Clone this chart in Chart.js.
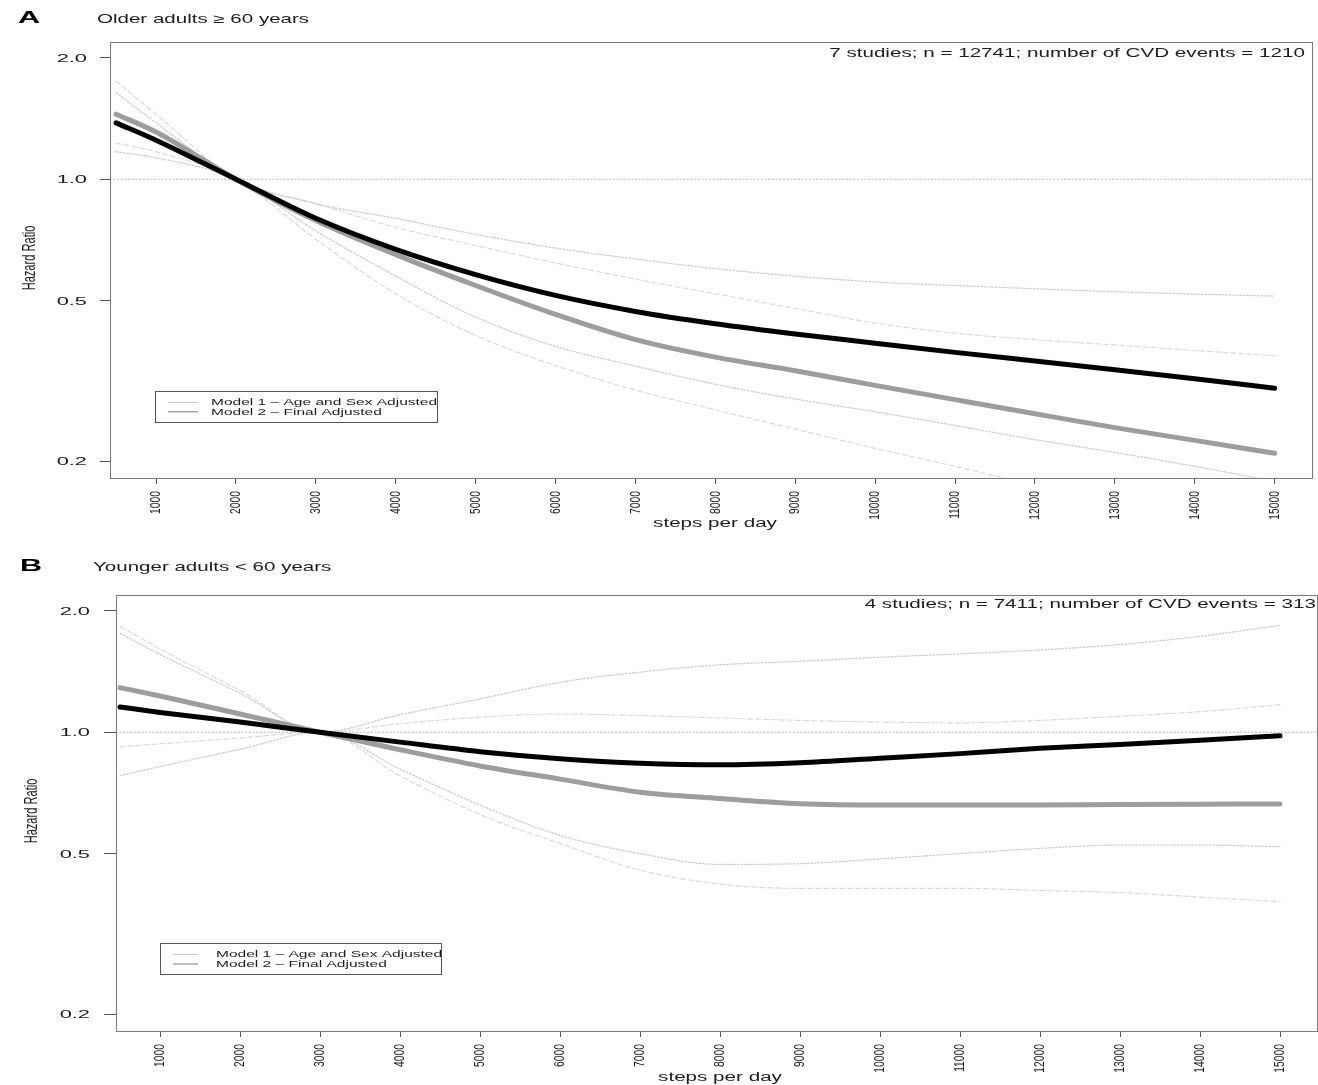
<!DOCTYPE html>
<html>
<head>
<meta charset="utf-8">
<title>Steps per day and CVD risk</title>
<script src="https://cdn.jsdelivr.net/npm/chart.js@4.4.1/dist/chart.umd.min.js"></script>
<style>
html, body { margin: 0; padding: 0; background: #fff; }
canvas { display: block; }
</style>
</head>
<body>
<canvas id="panelA" width="1318" height="545"></canvas>
<canvas id="panelB" width="1318" height="540"></canvas>
<script>
const steps = [500, 1000, 2000, 3000, 4000, 5000, 6000, 7000, 8000, 9000, 10000, 11000, 12000, 13000, 14000, 15000];
const xTicks = [1000, 2000, 3000, 4000, 5000, 6000, 7000, 8000, 9000, 10000, 11000, 12000, 13000, 14000, 15000];
const yTicks = [0.2, 0.5, 1.0, 2.0];

// A - older adults >= 60
const olderM1   = [1.45, 1.31, 1.0, 0.79, 0.65, 0.545, 0.462, 0.40, 0.362, 0.335, 0.308, 0.284, 0.262, 0.242, 0.225, 0.209];
const olderM1Hi = [1.75, 1.45, 1.0, 0.87, 0.76, 0.685, 0.62, 0.565, 0.52, 0.478, 0.44, 0.415, 0.40, 0.388, 0.376, 0.365];
const olderM1Lo = [1.23, 1.17, 1.0, 0.71, 0.52, 0.41, 0.345, 0.30, 0.268, 0.24, 0.215, 0.194, 0.174, 0.157, 0.141, 0.127];
const olderM2   = [1.38, 1.25, 1.0, 0.80, 0.67, 0.58, 0.515, 0.47, 0.438, 0.413, 0.392, 0.372, 0.354, 0.337, 0.32, 0.303];
const olderM2Hi = [1.64, 1.38, 1.0, 0.87, 0.80, 0.73, 0.675, 0.634, 0.60, 0.575, 0.556, 0.545, 0.535, 0.526, 0.519, 0.513];
const olderM2Lo = [1.17, 1.13, 1.0, 0.745, 0.575, 0.455, 0.385, 0.344, 0.31, 0.285, 0.265, 0.245, 0.226, 0.21, 0.194, 0.178];

// B - younger adults < 60
const youngerM1   = [1.29, 1.23, 1.11, 1.0, 0.905, 0.825, 0.765, 0.71, 0.685, 0.665, 0.66, 0.66, 0.66, 0.662, 0.663, 0.664];
const youngerM1Hi = [1.83, 1.61, 1.27, 1.0, 1.05, 1.09, 1.11, 1.10, 1.085, 1.07, 1.06, 1.055, 1.07, 1.095, 1.125, 1.17];
const youngerM1Lo = [0.92, 0.936, 0.968, 1.0, 0.78, 0.625, 0.53, 0.455, 0.42, 0.41, 0.41, 0.41, 0.405, 0.40, 0.39, 0.38];
const youngerM2   = [1.155, 1.12, 1.06, 1.0, 0.945, 0.895, 0.86, 0.838, 0.83, 0.84, 0.862, 0.885, 0.912, 0.932, 0.955, 0.98];
const youngerM2Hi = [1.76, 1.56, 1.25, 1.0, 1.105, 1.21, 1.33, 1.41, 1.47, 1.50, 1.535, 1.565, 1.60, 1.65, 1.73, 1.84];
const youngerM2Lo = [0.78, 0.822, 0.907, 1.0, 0.81, 0.66, 0.555, 0.50, 0.47, 0.472, 0.485, 0.50, 0.515, 0.525, 0.525, 0.52];

const legendLabels = ['Model 1 \u2013 Age and Sex Adjusted', 'Model 2 \u2013 Final Adjusted'];

const FONT = '"Liberation Sans", Arial, Helvetica, sans-serif';
const INK = '#1c1c1c';

// the reference is stretched sideways, so text is drawn with a horizontal scale
function txt(ctx, s, x, y, o) {
    ctx.save();
    ctx.font = (o.bold ? 'bold ' : '') + o.size + 'px ' + FONT;
    ctx.fillStyle = o.color || INK;
    ctx.textAlign = o.align || 'left';
    ctx.textBaseline = o.base || 'alphabetic';
    ctx.translate(x, y);
    ctx.scale(o.k || 1.65, 1);
    if (o.rot) ctx.rotate(-Math.PI / 2);
    ctx.fillText(s, 0, 0);
    ctx.restore();
}

const decor = {
    id: 'decor',
    afterDraw(chart) {
        const ctx = chart.ctx;
        const a = chart.chartArea;
        const L = chart.options.plugins.decor;
        const xs = chart.scales.x, ys = chart.scales.y;

        // frame
        ctx.save();
        ctx.strokeStyle = '#7a7a7a';
        ctx.lineWidth = 1;
        ctx.strokeRect(Math.round(a.left) + 0.5, Math.round(a.top) + 0.5,
            Math.round(a.right - a.left) - 1, Math.round(a.bottom - a.top));
        ctx.restore();

        // tick labels
        xTicks.forEach(v => {
            txt(ctx, String(v), xs.getPixelForValue(v), a.bottom + 13,
                {size: 10.3, rot: true, align: 'right', base: 'middle', k: 1.5});
        });
        yTicks.forEach(v => {
            txt(ctx, v.toFixed(1), L.yLabelRight, ys.getPixelForValue(v) + 1,
                {size: 11.5, align: 'right', base: 'middle', k: 1.9});
        });

        // titles
        txt(ctx, L.letter, L.letterX, L.titleY, {size: 17, bold: true, k: 1.8, color: '#000'});
        txt(ctx, L.title, L.titleX, L.titleY, {size: 12.6, k: 1.63});
        txt(ctx, L.note, L.noteX, L.noteY, {size: 12.5, k: 1.65, align: 'right'});
        txt(ctx, 'Hazard Ratio', L.yTitleX, (a.top + a.bottom) / 2 - 2,
            {size: 11.1, rot: true, align: 'center', base: 'middle', k: 1.65});
        txt(ctx, 'steps per day', L.xTitleX, L.xTitleY, {size: 12.5, k: 1.65, align: 'center'});

        // legend box
        const b = L.legend;
        ctx.save();
        ctx.strokeStyle = '#555';
        ctx.lineWidth = 1;
        ctx.strokeRect(b.x + 0.5, b.y + 0.5, b.w, b.h);
        const cols = ['#c9c9c9', '#7d7d7d'];
        legendLabels.forEach((lab, i) => {
            const ly = b.y + b.row0 + i * b.gap;
            ctx.strokeStyle = cols[i];
            ctx.beginPath();
            ctx.moveTo(b.x + b.lineX0, ly + 0.5);
            ctx.lineTo(b.x + b.lineX1, ly + 0.5);
            ctx.stroke();
            txt(ctx, lab, b.x + b.textX, ly + 3.2, {size: 9.3, k: 1.67});
        });
        ctx.restore();
    }
};

function makePanel(id, series, L) {
    const pts = arr => steps.map((s, i) => ({x: s, y: arr[i]}));
    const ciM2 = {borderColor: '#cdcdcd', borderWidth: 1.3, borderDash: [1.5, 2]};
    const ciM1 = {borderColor: '#d8d8d8', borderWidth: 1.1, borderDash: [5, 3]};
    new Chart(document.getElementById(id), {
        type: 'line',
        data: {
            datasets: [
                {label: legendLabels[1], data: pts(series.m2), borderColor: '#000', borderWidth: 5},
                {label: legendLabels[0], data: pts(series.m1), borderColor: '#9d9d9d', borderWidth: 5},
                Object.assign({data: pts(series.m2Hi)}, ciM2),
                Object.assign({data: pts(series.m2Lo)}, ciM2),
                Object.assign({data: pts(series.m1Hi)}, ciM1),
                Object.assign({data: pts(series.m1Lo)}, ciM1),
                {data: [{x: L.xMin, y: 1}, {x: L.xMax, y: 1}], borderColor: '#cfcfcf',
                 borderWidth: 1.3, borderDash: [1.2, 2.5], cubicInterpolationMode: 'default', tension: 0}
            ]
        },
        options: {
            responsive: false,
            animation: false,
            events: [],
            layout: {padding: {top: L.top, right: L.right, bottom: 0, left: 0}},
            elements: {
                point: {radius: 0},
                line: {cubicInterpolationMode: 'monotone', borderCapStyle: 'round', fill: false}
            },
            plugins: {legend: {display: false}, tooltip: {enabled: false}, decor: L},
            scales: {
                x: {
                    type: 'linear', min: L.xMin, max: L.xMax,
                    afterBuildTicks: s => { s.ticks = xTicks.map(v => ({value: v})); },
                    afterFit: s => { s.height = L.xHeight; },
                    ticks: {display: false},
                    grid: {drawOnChartArea: false, drawTicks: true, tickLength: 6, color: '#555', lineWidth: 1},
                    border: {display: false}
                },
                y: {
                    type: 'logarithmic', min: 0.1815, max: 2.19,
                    afterBuildTicks: s => { s.ticks = yTicks.map(v => ({value: v})); },
                    afterFit: s => { s.width = L.yWidth; },
                    ticks: {display: false},
                    grid: {drawOnChartArea: false, drawTicks: true, tickLength: L.yTick, color: '#555', lineWidth: 1},
                    border: {display: false}
                }
            }
        },
        plugins: [decor]
    });
}

makePanel('panelA',
    {m1: olderM1, m1Hi: olderM1Hi, m1Lo: olderM1Lo, m2: olderM2, m2Hi: olderM2Hi, m2Lo: olderM2Lo},
    {
        top: 42, right: 5, xHeight: 545 - 478, yWidth: 110, yTick: 10,
        xMin: 424, xMax: 15480,
        letter: 'A', letterX: 18, title: 'Older adults \u2265 60 years', titleX: 97, titleY: 23,
        note: '7 studies; n = 12741; number of CVD events = 1210', noteX: 1305, noteY: 57,
        yLabelRight: 87, yTitleX: 30, xTitleX: 715, xTitleY: 527,
        legend: {x: 155, y: 391, w: 282, h: 31, lineX0: 13, lineX1: 43, textX: 56, row0: 11, gap: 9.3}
    });

makePanel('panelB',
    {m1: youngerM1, m1Hi: youngerM1Hi, m1Lo: youngerM1Lo, m2: youngerM2, m2Hi: youngerM2Hi, m2Lo: youngerM2Lo},
    {
        top: 595 - 545, right: 0, xHeight: 540 - 486, yWidth: 116, yTick: 12,
        xMin: 450, xMax: 15475,
        letter: 'B', letterX: 20, title: 'Younger adults < 60 years', titleX: 93, titleY: 571 - 545,
        note: '4 studies; n = 7411; number of CVD events = 313', noteX: 1316, noteY: 608 - 545,
        yLabelRight: 90, yTitleX: 32, xTitleX: 720, xTitleY: 1081 - 545,
        legend: {x: 160, y: 943 - 545, w: 281, h: 31, lineX0: 13, lineX1: 38, textX: 56, row0: 11, gap: 9.5}
    });
</script>
</body>
</html>
